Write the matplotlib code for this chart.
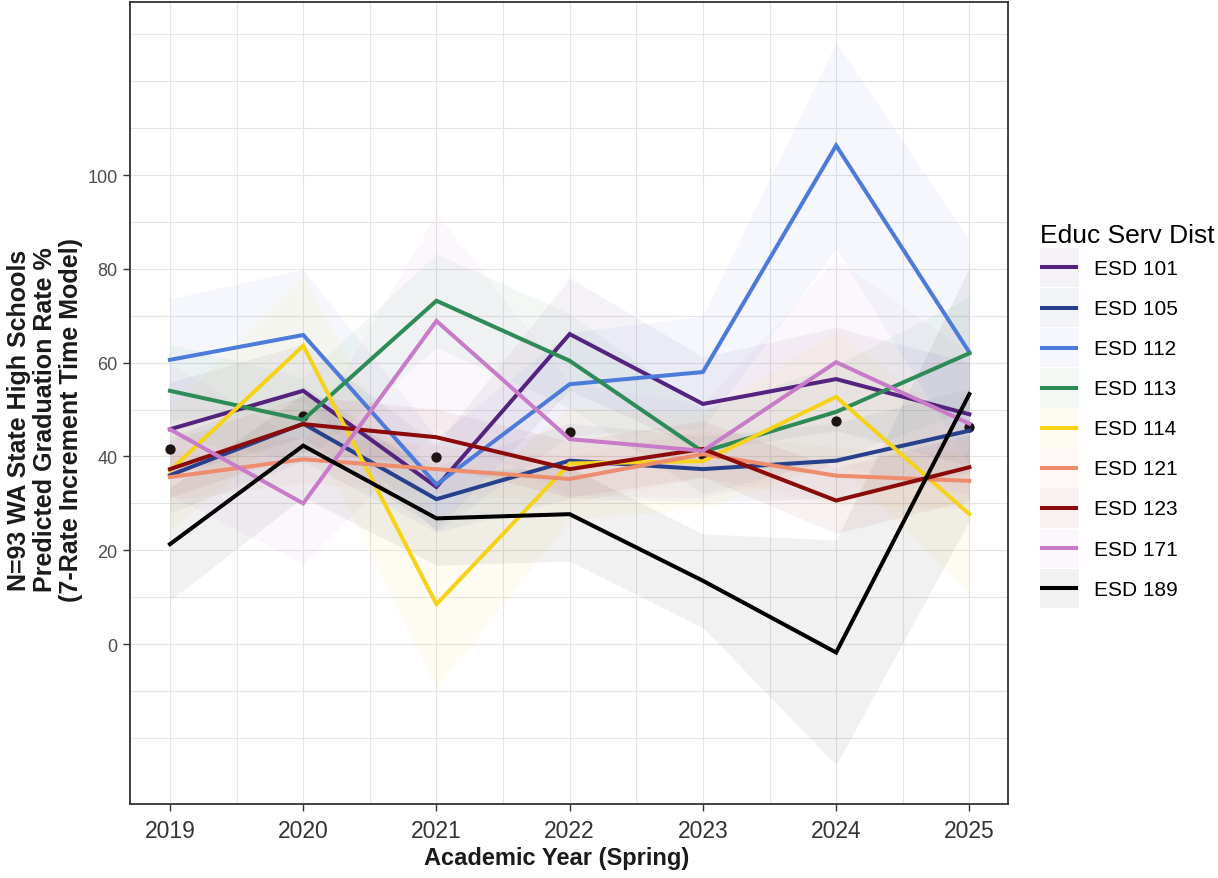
import matplotlib
matplotlib.use("Agg")
import matplotlib.pyplot as plt
from matplotlib.lines import Line2D
from matplotlib.patches import Rectangle
from matplotlib.legend_handler import HandlerBase

plt.rcParams["font.family"] = ["Liberation Sans", "DejaVu Sans"]

years = [2019, 2020, 2021, 2022, 2023, 2024, 2025]

esd101 = [45.8, 54.0, 33.5, 66.1, 51.2, 56.5, 49.0]
esd105 = [36.0, 47.0, 30.9, 39.1, 37.3, 39.1, 45.5]
esd112 = [60.6, 65.9, 34.0, 55.4, 58.0, 106.3, 62.2]
esd113 = [54.0, 47.8, 73.2, 60.4, 41.0, 49.5, 62.0]
esd114 = [37.0, 63.6, 8.5, 38.5, 39.0, 52.7, 27.7]
esd121 = [35.6, 39.4, 37.3, 35.2, 40.5, 35.9, 34.8]
esd123 = [37.3, 46.9, 44.1, 37.3, 41.6, 30.6, 37.7]
esd171 = [45.8, 30.0, 68.9, 43.7, 41.2, 60.1, 47.0]
esd189 = [21.3, 42.3, 26.8, 27.7, 13.5, -1.8, 53.3]

# half-widths of the prediction bands
esd101_band = [10, 10, 9, 12, 10, 11, 11]
esd105_band = [8, 8, 7, 8, 7, 8, 9]
esd112_band = [13, 14, 10, 11, 12, 22, 24]
esd113_band = [10, 9, 10, 10, 9, 10, 12]
esd114_band = [13, 15, 18, 12, 10, 14, 17]
esd121_band = [5, 5, 5, 5, 5, 6, 6]
esd123_band = [6, 6, 6, 6, 6, 7, 7]
esd171_band = [14, 13, 23, 12, 10, 22, 15]
esd189_band = [12, 11, 10, 10, 10, 24, 27]

# state-wide mean per year
overall = [41.6, 48.6, 39.8, 45.2, 40.3, 47.6, 46.3]

labels = ["ESD 101", "ESD 105", "ESD 112", "ESD 113", "ESD 114",
          "ESD 121", "ESD 123", "ESD 171", "ESD 189"]
colors = ["#53237D", "#27408B", "#4D7BD9", "#2E8B57", "#F5D31A",
          "#EE8C6E", "#8B0A0A", "#C77BC9", "#000000"]
series = [esd101, esd105, esd112, esd113, esd114, esd121, esd123, esd171, esd189]
bands = [esd101_band, esd105_band, esd112_band, esd113_band, esd114_band,
         esd121_band, esd123_band, esd171_band, esd189_band]

ALPHA = 0.055
LW = 2.9


class RibbonKey(HandlerBase):
    """Legend key: pale band filling the key box with the series line across its middle."""

    def create_artists(self, legend, orig_handle, xdescent, ydescent,
                       width, height, fontsize, trans):
        col = orig_handle.get_color()
        box = Rectangle((-xdescent, -ydescent), width, height,
                        facecolor=col, alpha=ALPHA, edgecolor="none",
                        transform=trans)
        yc = height / 2 - ydescent
        line = Line2D([-xdescent + 0.06 * width, -xdescent + 0.94 * width], [yc, yc],
                      color=col, lw=LW, transform=trans)
        return [box, line]


fig = plt.figure(figsize=(12.18, 8.79), dpi=100)
ax = fig.add_axes([130 / 1218, 74 / 879, 878 / 1218, 802 / 879])

ax.set_xlim(2018.70, 2025.29)
ax.set_ylim(-34.1, 136.9)

# grid
for gy in range(-20, 131, 10):
    ax.axhline(gy, color="#E4E4E4", lw=0.8, zorder=0)
for k in range(0, 13):
    gx = 2019 + 0.5 * k
    ax.axvline(gx, color="#E4E4E4", lw=0.8, zorder=0)

for vals, band, col in zip(series, bands, colors):
    lo = [v - b for v, b in zip(vals, band)]
    hi = [v + b for v, b in zip(vals, band)]
    ax.fill_between(years, lo, hi, color=col, alpha=ALPHA, lw=0, zorder=1)

ax.scatter(years, overall, s=55, color="#1E1414", zorder=2, linewidths=0)

line_handles = []
for vals, col in zip(series, colors):
    ln, = ax.plot(years, vals, color=col, lw=LW, zorder=3, solid_joinstyle="miter")
    line_handles.append(ln)

ax.set_xticks(years)
ax.set_xticklabels([str(y) for y in years], fontsize=16.5, color="#333333")
ax.set_yticks([0, 20, 40, 60, 80, 100])
ax.set_yticklabels(["0", "20", "40", "60", "80", "100"], fontsize=13, color="#4D4D4D")
ax.tick_params(axis="both", direction="out", length=5, width=1.0, color="#333333")
ax.tick_params(axis="x", pad=6)
ax.tick_params(axis="y", pad=4)
for sp in ax.spines.values():
    sp.set_color("#333333")
    sp.set_linewidth(1.3)

fig.text(557 / 1218, 1 - 859 / 879, "Academic Year (Spring)", fontsize=17,
         fontweight="bold", ha="center", va="center", color="#1a1a1a")
fig.text(45 / 1218, 1 - 420 / 879,
         "N=93 WA State High Schools\nPredicted Graduation Rate %\n(7-Rate Increment Time Model)",
         fontsize=18, fontweight="bold", rotation=90, ha="center", va="center",
         multialignment="center", linespacing=1.08, color="#1a1a1a")

leg = ax.legend(line_handles, labels, title="Educ Serv Dist", loc="upper left",
                bbox_to_anchor=(1040 / 1218, 1 - 224 / 879),
                bbox_transform=fig.transFigure, frameon=False,
                fontsize=15, title_fontsize=19, alignment="left",
                handlelength=1.85, handleheight=2.54, labelspacing=0.03,
                handletextpad=0.75, borderpad=0.0, borderaxespad=0.0,
                handler_map={Line2D: RibbonKey()})

fig.savefig("out.png", dpi=100, facecolor="white")
